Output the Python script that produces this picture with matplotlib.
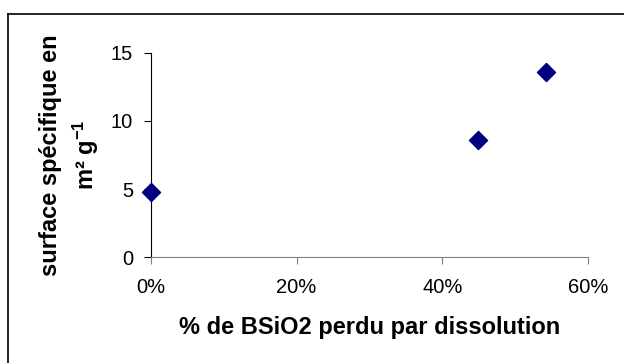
import matplotlib
matplotlib.use("Agg")
import matplotlib.pyplot as plt
from matplotlib.lines import Line2D
from matplotlib.ticker import FuncFormatter

plt.rcParams['font.family'] = ['Liberation Sans', 'DejaVu Sans']
plt.rcParams['mathtext.fontset'] = 'custom'
plt.rcParams['mathtext.rm'] = 'Liberation Sans:bold'
plt.rcParams['mathtext.default'] = 'rm'

# data
perte = [0.0, 0.449, 0.543]          # fraction de BSiO2 perdu
surface = [4.8, 8.6, 13.6]           # m2 g-1
xticks = [0, 0.2, 0.4, 0.6]
yticks = [0, 5, 10, 15]

fig = plt.figure(figsize=(6.24, 3.63), dpi=100)
ax = fig.add_axes([0.242, 0.292, 0.7, 0.562])

ax.scatter(perte, surface, marker='D', s=85, c='#000080', zorder=3, clip_on=False)

ax.set_xlim(0, 0.6)
ax.set_ylim(0, 15)
ax.set_xticks(xticks)
ax.set_yticks(yticks)
ax.xaxis.set_major_formatter(FuncFormatter(lambda v, p: f"{v*100:.0f}%"))

for s in ['top', 'right']:
    ax.spines[s].set_visible(False)
ax.spines['left'].set_color('black')
ax.spines['bottom'].set_color('#808080')
ax.tick_params(direction='out', length=5, labelsize=14.5, width=0.8)
ax.tick_params(axis='x', pad=10, colors='#808080', labelcolor='black')
ax.tick_params(axis='y', pad=8)

ax.set_xlabel("% de BSiO2 perdu par dissolution", fontsize=17, fontweight='bold', va='center')
ax.xaxis.set_label_coords(0.5, -0.348)
ax.set_ylabel("surface spécifique en\nm² g$^{-1}$", fontsize=17, fontweight='bold',
              va='center', linespacing=1.4)
ax.yaxis.set_label_coords(-0.185, 0.5)

# cadre du graphique (bords gauche et haut visibles)
fig.add_artist(Line2D([8/624, 8/624], [0, 1 - 14/363], color='black', lw=1.2))
fig.add_artist(Line2D([8/624, 1], [1 - 14/363, 1 - 14/363], color='black', lw=1.2))

fig.savefig("out.png", dpi=100)
